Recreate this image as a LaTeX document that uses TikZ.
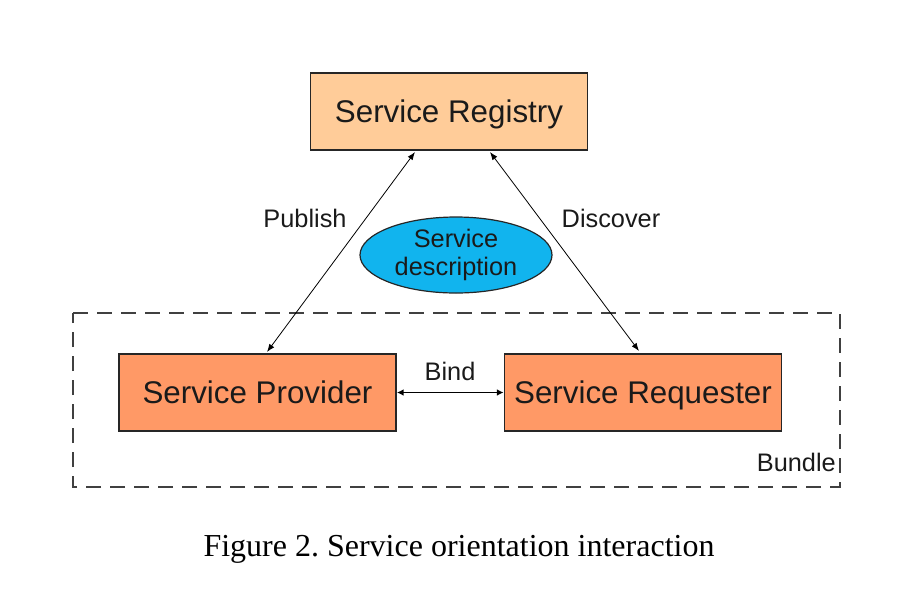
\documentclass[tikz,border=0pt]{standalone}
\usepackage{fontspec}
\setmainfont{Liberation Serif}
\setsansfont{Liberation Sans}
\usetikzlibrary{arrows.meta,shapes.geometric}
\definecolor{regfill}{HTML}{FFCC99}
\definecolor{actfill}{HTML}{FF9966}
\definecolor{descfill}{HTML}{11B4EE}
\definecolor{txt}{HTML}{1A1A1A}
\frenchspacing
\begin{document}
\begin{tikzpicture}[x=0.75pt,y=-0.75pt,
  box/.style={draw=black!85,line width=1.1pt,minimum width=208pt,minimum height=58pt,inner sep=0pt,text height=17pt,text depth=0.5pt,font=\sffamily\fontsize{23.5}{27}\selectfont,text=txt},
  lbl/.style={font=\sffamily\fontsize{19}{22}\selectfont,text=txt,inner sep=0pt},
  conn/.style={line width=0.6pt,{Latex[length=6pt,width=4.5pt]}-{Latex[length=6pt,width=4.5pt]}}]
\useasboundingbox (0,0) rectangle (910,590);
\node[box,fill=regfill] (reg) at (449,111.5) {Service Registry};
\node[box,fill=actfill] (prov) at (257.5,392.5) {Service Provider};
\node[box,fill=actfill] (req) at (643,392.5) {Service Requester};
\node[ellipse,draw=black!85,line width=0.9pt,fill=descfill,minimum width=144pt,minimum height=57pt,inner sep=0pt,align=center,font=\sffamily\fontsize{19}{22}\selectfont,text=txt] (desc) at (456,255) {Service\\[-1pt]description};
\draw[dashed,dash pattern=on 11pt off 7pt,line width=1pt,black!75] (73,313) -- (840,313) -- (840,487) -- (73,487) -- cycle;
\node[lbl,anchor=east] (bundle) at (836,462) {Bundle};
\coordinate (p1) at (415,152);
\coordinate (p2) at (267,352);
\coordinate (d1) at (490,152);
\coordinate (d2) at (639,351);
\draw[conn] (p1) -- (p2);
\draw[conn] (d1) -- (d2);
\draw[conn,line width=1pt,{Latex[length=5pt,width=5pt]}-{Latex[length=5pt,width=5pt]}] (prov.east) -- (req.west);
\node[lbl] (pub) at (305,218) {Publish};
\node[lbl] (disc) at (611,218) {Discover};
\node[lbl] (bind) at (450,371) {Bind};
\node[font=\rmfamily\fontsize{24}{28}\selectfont,inner sep=0pt] (cap) at (459,549) {Figure 2. Service orientation interaction};
\end{tikzpicture}
\end{document}
